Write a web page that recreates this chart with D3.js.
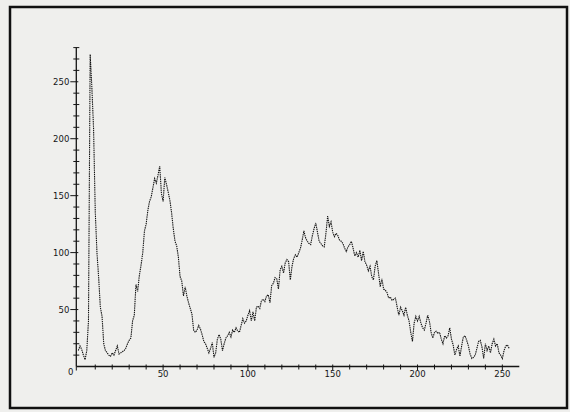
<!DOCTYPE html>
<html><head><meta charset="utf-8">
<script src="https://cdn.jsdelivr.net/npm/d3@7"></script>
<style>
html,body{margin:0;padding:0;background:#efefed;}
svg{display:block;}
</style></head>
<body>
<script>
// Histogram counts for grey levels 0..254
const counts = [
14,18,15,10,6,14,40,274,245,209,136,100,78,52,44,20,14,12,10,9,
12,10,14,18,11,12,13,14,16,20,23,25,40,45,72,66,80,89,100,119,
125,137,145,149,157,165,161,168,176,152,145,166,160,153,146,135,121,110,106,96,
79,75,62,70,62,56,51,46,32,30,32,36,33,28,22,20,16,12,16,21,
8,12,24,28,24,14,20,25,27,30,26,32,30,34,31,30,36,42,38,40,
45,49,40,48,40,52,53,51,58,59,57,62,63,56,71,73,78,77,68,85,
88,82,91,94,92,76,88,95,98,96,100,104,111,119,113,110,108,107,115,121,
126,118,110,108,106,105,117,132,123,127,118,114,117,115,111,110,108,104,101,105,
107,110,104,97,100,96,102,93,101,92,89,84,88,79,76,88,93,82,70,77,
68,67,65,60,61,58,59,60,52,45,52,49,45,52,45,40,30,22,38,44,
40,44,38,34,32,38,45,40,30,25,30,31,29,30,24,20,27,25,27,34,
24,19,10,15,18,9,18,26,27,23,18,11,7,8,10,16,22,23,17,7,
20,14,18,12,20,24,18,20,12,10,7,14,18,19,16
];
const greyLevels = counts.map((_, i) => i);
const xMajorTicks = [50, 100, 150, 200, 250];
const xMinorTicks = d3.range(10, 260, 10);
const yMajorTicks = [50, 100, 150, 200, 250];
const yMinorTicks = d3.range(10, 281, 10);

const W = 570, H = 412;
const svg = d3.select("body").append("svg").attr("width", W).attr("height", H);

svg.append("rect").attr("width", W).attr("height", H).attr("fill", "#efefed");
svg.append("rect").attr("x", 10).attr("y", 7).attr("width", 557).attr("height", 401)
  .attr("fill", "none").attr("stroke", "#111").attr("stroke-width", 2.5);

const x = d3.scaleLinear().domain([0, 260]).range([78.3, 519.3]);
const y = d3.scaleLinear().domain([0, 280]).range([366.5, 47.6]);
const x0 = x(0) - 2, y0 = y(0);
const ink = "#151515";
const font = "DejaVu Sans, sans-serif";

const g = svg.append("g");
g.append("line").attr("x1", x0).attr("x2", x0).attr("y1", y0).attr("y2", y(280))
  .attr("stroke", ink).attr("stroke-width", 1.3);
g.append("line").attr("x1", x0).attr("x2", x(260)).attr("y1", y0).attr("y2", y0)
  .attr("stroke", ink).attr("stroke-width", 1.3);

g.selectAll(".ymin").data(yMinorTicks.filter(v => v % 50 !== 0)).join("line")
  .attr("x1", x0 - 3).attr("x2", x0 + 3).attr("y1", d => y(d)).attr("y2", d => y(d))
  .attr("stroke", ink).attr("stroke-width", 1);
g.selectAll(".ymaj").data(yMajorTicks).join("line")
  .attr("x1", x0 - 6).attr("x2", x0 + 2).attr("y1", d => y(d)).attr("y2", d => y(d))
  .attr("stroke", ink).attr("stroke-width", 1);
g.selectAll(".ylab").data(yMajorTicks).join("text")
  .attr("x", x0 - 7).attr("y", d => y(d)).attr("dy", "0.35em")
  .attr("text-anchor", "end").attr("font-family", font)
  .attr("font-size", 8.5).attr("fill", ink).text(d => d);

g.selectAll(".xmin").data(xMinorTicks.filter(v => v % 50 !== 0)).join("line")
  .attr("x1", d => x(d)).attr("x2", d => x(d)).attr("y1", y0 - 2).attr("y2", y0 + 3)
  .attr("stroke", ink).attr("stroke-width", 1);
g.selectAll(".xmaj").data(xMajorTicks).join("line")
  .attr("x1", d => x(d)).attr("x2", d => x(d)).attr("y1", y0 - 2).attr("y2", y0 + 4)
  .attr("stroke", ink).attr("stroke-width", 1);
g.append("line").attr("x1", x0).attr("x2", x0).attr("y1", y0).attr("y2", y0 + 4)
  .attr("stroke", ink).attr("stroke-width", 1);
g.selectAll(".xlab").data(xMajorTicks).join("text")
  .attr("x", d => x(d)).attr("y", y0 + 10).attr("text-anchor", "middle")
  .attr("font-family", font).attr("font-size", 8.5)
  .attr("fill", ink).text(d => d);
g.append("text").attr("x", x0 - 3).attr("y", y0 + 8.5).attr("text-anchor", "end")
  .attr("font-family", font).attr("font-size", 8.5)
  .attr("fill", ink).text("0");

const line = d3.line().x((d, i) => x(greyLevels[i])).y(d => y(d));
g.append("path").datum(counts).attr("d", line)
  .attr("fill", "none").attr("stroke", "#111").attr("stroke-width", 1.1)
  .attr("stroke-dasharray", "1.4,0.8");
</script>
</body></html>
